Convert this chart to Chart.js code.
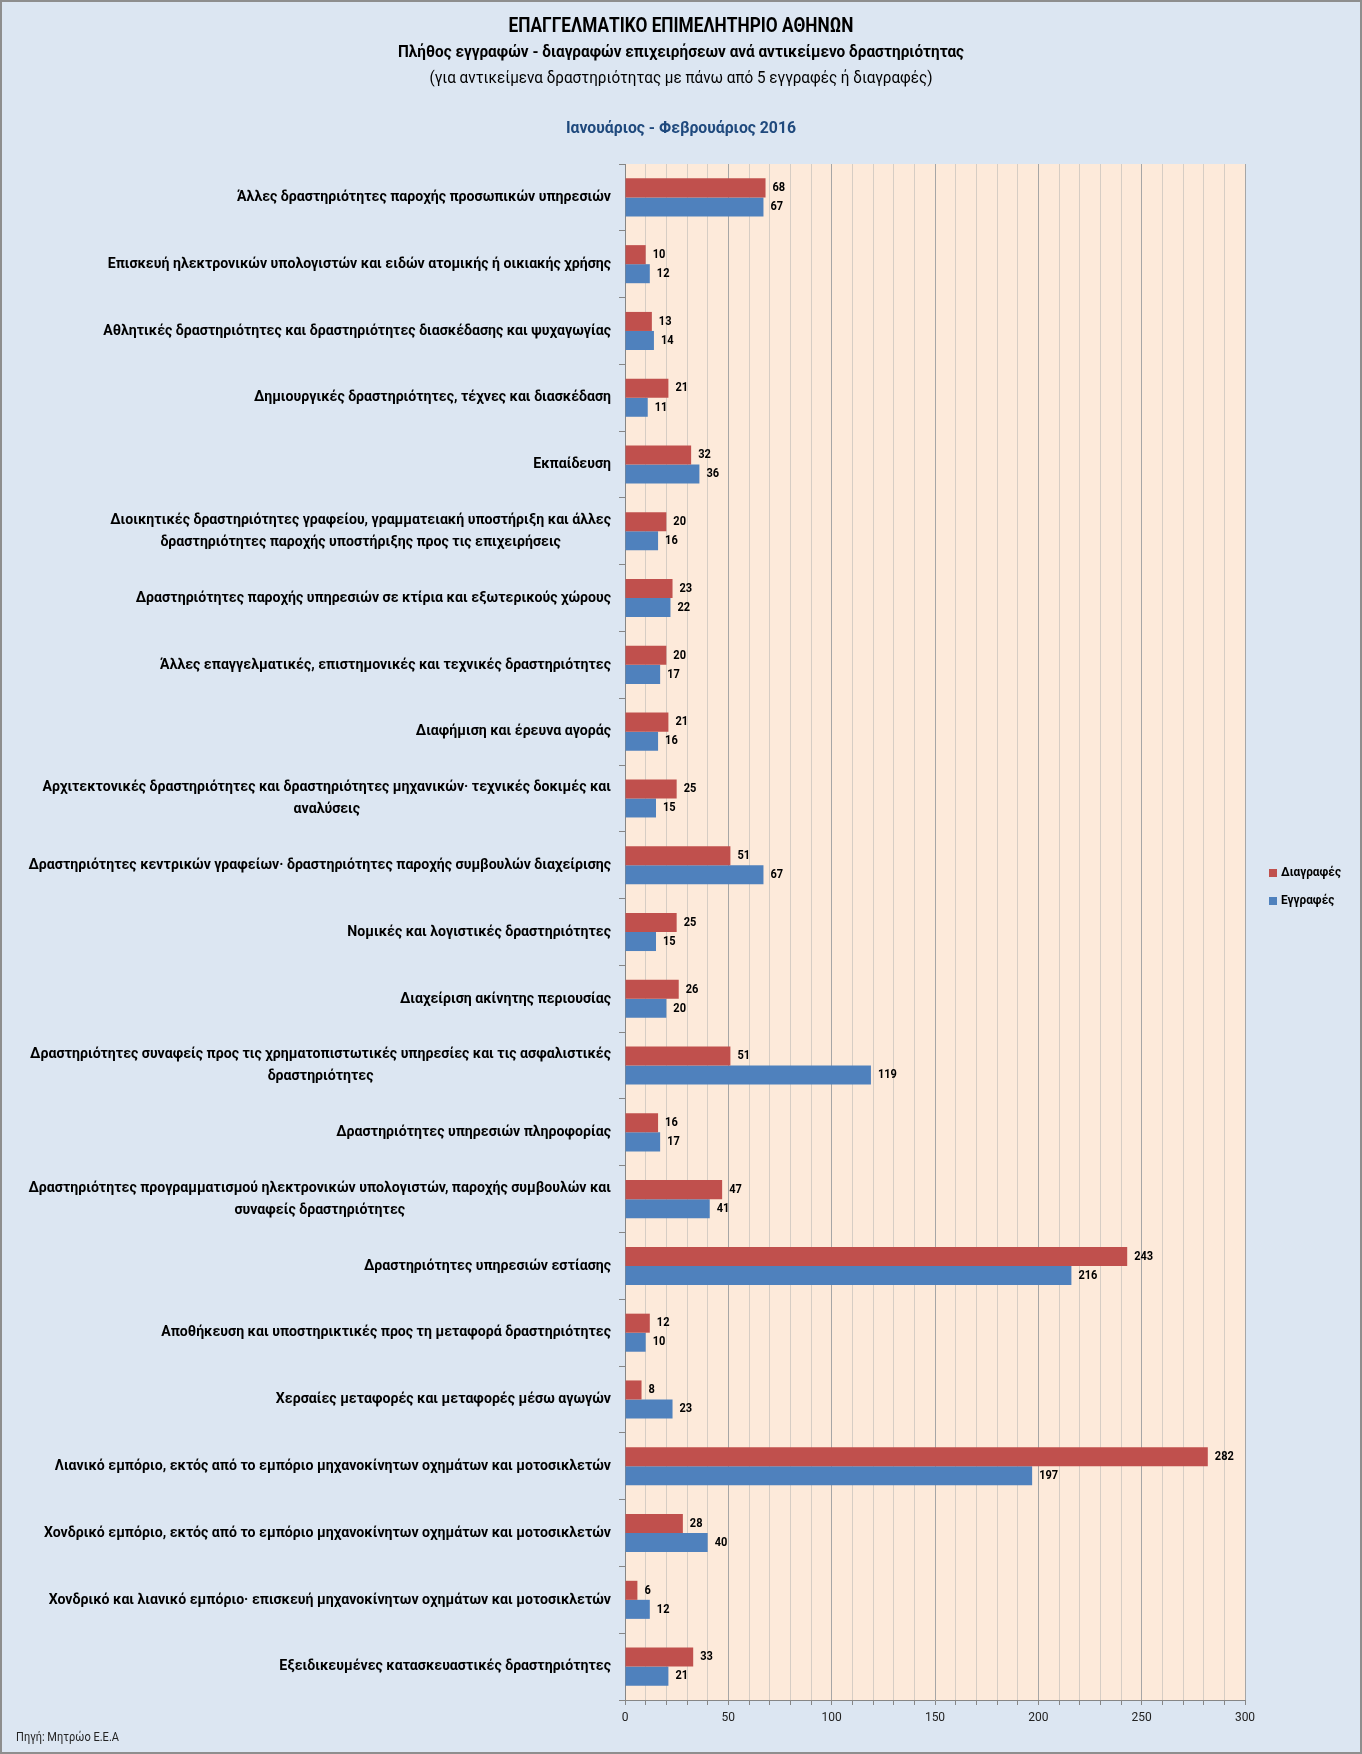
<!DOCTYPE html>
<html>
<head>
<meta charset="utf-8">
<script src="https://cdn.jsdelivr.net/npm/chart.js@4.4.1/dist/chart.umd.min.js"></script>
<style>
  html, body { margin: 0; padding: 0; background: #dce6f2; }
  #wrap { width: 1362px; height: 1754px; }
</style>
</head>
<body>
<div id="wrap"><canvas id="chart" width="1362" height="1754"></canvas></div>
<script>
// categories, top to bottom (wrapped lines as in the original)
const categories = [
  ["Άλλες δραστηριότητες παροχής προσωπικών υπηρεσιών"],
  ["Επισκευή ηλεκτρονικών υπολογιστών και ειδών ατομικής ή οικιακής χρήσης"],
  ["Αθλητικές δραστηριότητες και δραστηριότητες διασκέδασης και ψυχαγωγίας"],
  ["Δημιουργικές δραστηριότητες, τέχνες και διασκέδαση"],
  ["Εκπαίδευση"],
  ["Διοικητικές δραστηριότητες γραφείου, γραμματειακή υποστήριξη και άλλες", "δραστηριότητες παροχής υποστήριξης προς τις επιχειρήσεις"],
  ["Δραστηριότητες παροχής υπηρεσιών σε κτίρια και εξωτερικούς χώρους"],
  ["Άλλες επαγγελματικές, επιστημονικές και τεχνικές δραστηριότητες"],
  ["Διαφήμιση και έρευνα αγοράς"],
  ["Αρχιτεκτονικές δραστηριότητες και δραστηριότητες μηχανικών· τεχνικές δοκιμές και", "αναλύσεις"],
  ["Δραστηριότητες κεντρικών γραφείων· δραστηριότητες παροχής συμβουλών διαχείρισης"],
  ["Νομικές και λογιστικές δραστηριότητες"],
  ["Διαχείριση ακίνητης περιουσίας"],
  ["Δραστηριότητες συναφείς προς τις χρηματοπιστωτικές υπηρεσίες και τις ασφαλιστικές", "δραστηριότητες"],
  ["Δραστηριότητες υπηρεσιών πληροφορίας"],
  ["Δραστηριότητες προγραμματισμού ηλεκτρονικών υπολογιστών, παροχής συμβουλών και", "συναφείς δραστηριότητες"],
  ["Δραστηριότητες υπηρεσιών εστίασης"],
  ["Αποθήκευση και υποστηρικτικές προς τη μεταφορά δραστηριότητες"],
  ["Χερσαίες μεταφορές και μεταφορές μέσω αγωγών"],
  ["Λιανικό εμπόριο, εκτός από το εμπόριο μηχανοκίνητων οχημάτων και μοτοσικλετών"],
  ["Χονδρικό εμπόριο, εκτός από το εμπόριο μηχανοκίνητων οχημάτων και μοτοσικλετών"],
  ["Χονδρικό και λιανικό εμπόριο· επισκευή μηχανοκίνητων οχημάτων και μοτοσικλετών"],
  ["Εξειδικευμένες κατασκευαστικές δραστηριότητες"]
];

const diagrafes = [68, 10, 13, 21, 32, 20, 23, 20, 21, 25, 51, 25, 26, 51, 16, 47, 243, 12, 8, 282, 28, 6, 33];
const eggrafes  = [67, 12, 14, 11, 36, 16, 22, 17, 16, 15, 67, 15, 20, 119, 17, 41, 216, 10, 23, 197, 40, 12, 21];

const seriesNames = ["Διαγραφές", "Εγγραφές"];
const seriesColors = ["#c0504d", "#4f81bd"];

const xMin = 0, xMax = 300, xStep = 10, xLabelStep = 50;

const titleLines = [
  "ΕΠΑΓΓΕΛΜΑΤΙΚΟ ΕΠΙΜΕΛΗΤΗΡΙΟ ΑΘΗΝΩΝ",
  "Πλήθος εγγραφών - διαγραφών επιχειρήσεων ανά αντικείμενο δραστηριότητας",
  "(για αντικείμενα δραστηριότητας με πάνω από 5 εγγραφές ή διαγραφές)"
];
const period = "Ιανουάριος - Φεβρουάριος 2016";
const source = "Πηγή: Μητρώο Ε.Ε.Α";

const FAMILY = 'Roboto, "DejaVu Sans Condensed", sans-serif';

// Calibri is narrow: keep the size, squeeze horizontally so `ref` is `width` px wide
function squeeze(ctx, font, ref, width) {
  ctx.font = font;
  return Math.min(1, width / ctx.measureText(ref).width);
}

function put(ctx, text, x, y, sx) {
  ctx.save();
  ctx.translate(x, y);
  ctx.scale(sx, 1);
  ctx.fillText(text, 0, 0);
  ctx.restore();
}

const decor = {
  id: "decor",
  beforeDraw(chart) {
    const { ctx, chartArea: a } = chart;
    ctx.save();
    ctx.fillStyle = "#dce6f2";
    ctx.fillRect(0, 0, chart.width, chart.height);
    ctx.fillStyle = "#fdeada";
    ctx.fillRect(a.left, a.top, a.right - a.left, a.bottom - a.top);
    ctx.restore();
  },
  afterDraw(chart) {
    const { ctx } = chart;
    const cx = chart.width / 2;
    let sx;
    ctx.save();
    ctx.textAlign = "center";
    ctx.textBaseline = "middle";
    ctx.fillStyle = "#000";

    sx = squeeze(ctx, "bold 20px " + FAMILY, titleLines[0], 345);
    put(ctx, titleLines[0], cx, 27, sx);
    sx = squeeze(ctx, "bold 17px " + FAMILY, titleLines[1], 566);
    put(ctx, titleLines[1], cx, 53, sx);
    sx = squeeze(ctx, "16px " + FAMILY, titleLines[2], 503);
    put(ctx, titleLines[2], cx, 79, sx);
    ctx.fillStyle = "#1f497d";
    sx = squeeze(ctx, "bold 17px " + FAMILY, period, 230);
    put(ctx, period, cx, 129, sx);

    // category labels: block right-aligned, lines centred in block
    const y = chart.scales.y;
    const right = y.right - 14;
    ctx.fillStyle = "#000";
    sx = squeeze(ctx, "bold 15px " + FAMILY, categories[0][0], 374);
    categories.forEach((lines, i) => {
      const cy = y.getPixelForValue(i);
      const w = Math.max(...lines.map(l => ctx.measureText(l).width)) * sx;
      const mid = right - w / 2;
      lines.forEach((l, k) => {
        put(ctx, l, mid, cy + (k - (lines.length - 1) / 2) * 22, sx);
      });
    });

    // value labels
    ctx.textAlign = "left";
    sx = squeeze(ctx, "bold 13px " + FAMILY, "119", 19);
    chart.data.datasets.forEach((ds, di) => {
      chart.getDatasetMeta(di).data.forEach((bar, i) => {
        put(ctx, String(ds.data[i]), bar.x + 7, bar.y, sx);
      });
    });

    // legend
    sx = squeeze(ctx, "bold 13px " + FAMILY, seriesNames[0], 60);
    [873, 901].forEach((ly, k) => {
      ctx.fillStyle = seriesColors[k];
      ctx.fillRect(1269, ly - 4, 8, 8);
      ctx.fillStyle = "#000";
      put(ctx, seriesNames[k], 1281, ly, sx);
    });

    // source
    ctx.fillStyle = "#222";
    sx = squeeze(ctx, "12px " + FAMILY, source, 103);
    put(ctx, source, 16, 1738, sx);

    // outer frame
    ctx.strokeStyle = "#8e8e8e";
    ctx.lineWidth = 2;
    ctx.strokeRect(1, 1, chart.width - 2, chart.height - 2);
    ctx.restore();
  }
};

new Chart(document.getElementById("chart"), {
  type: "bar",
  data: {
    labels: categories.map(l => l.join(" ")),
    datasets: [
      { label: seriesNames[0], data: diagrafes, backgroundColor: seriesColors[0] },
      { label: seriesNames[1], data: eggrafes, backgroundColor: seriesColors[1] }
    ]
  },
  options: {
    indexAxis: "y",
    responsive: false,
    animation: false,
    categoryPercentage: 0.57,
    barPercentage: 1.0,
    layout: { padding: { top: 164, right: 117, left: 0, bottom: 0 } },
    plugins: {
      legend: { display: false },
      tooltip: { enabled: false }
    },
    scales: {
      x: {
        min: xMin,
        max: xMax,
        afterFit: s => { s.height = 54; },
        ticks: {
          stepSize: xStep,
          autoSkip: false,
          maxRotation: 0,
          padding: 6,
          color: "#222",
          font: { family: FAMILY, size: 12 },
          callback: v => (v % xLabelStep === 0 ? v : "")
        },
        grid: {
          color: c => (c.tick && c.tick.value % xLabelStep === 0 ? "#a6a6a6" : "#d6cdc4"),
          tickColor: "#868686",
          tickLength: 5
        },
        border: { color: "#868686" }
      },
      y: {
        afterFit: s => { s.width = 625; },
        ticks: { display: false },
        grid: {
          offset: true,
          drawOnChartArea: false,
          tickLength: 6,
          tickColor: "#868686"
        },
        border: { color: "#868686" }
      }
    }
  },
  plugins: [decor]
});
</script>
</body>
</html>
